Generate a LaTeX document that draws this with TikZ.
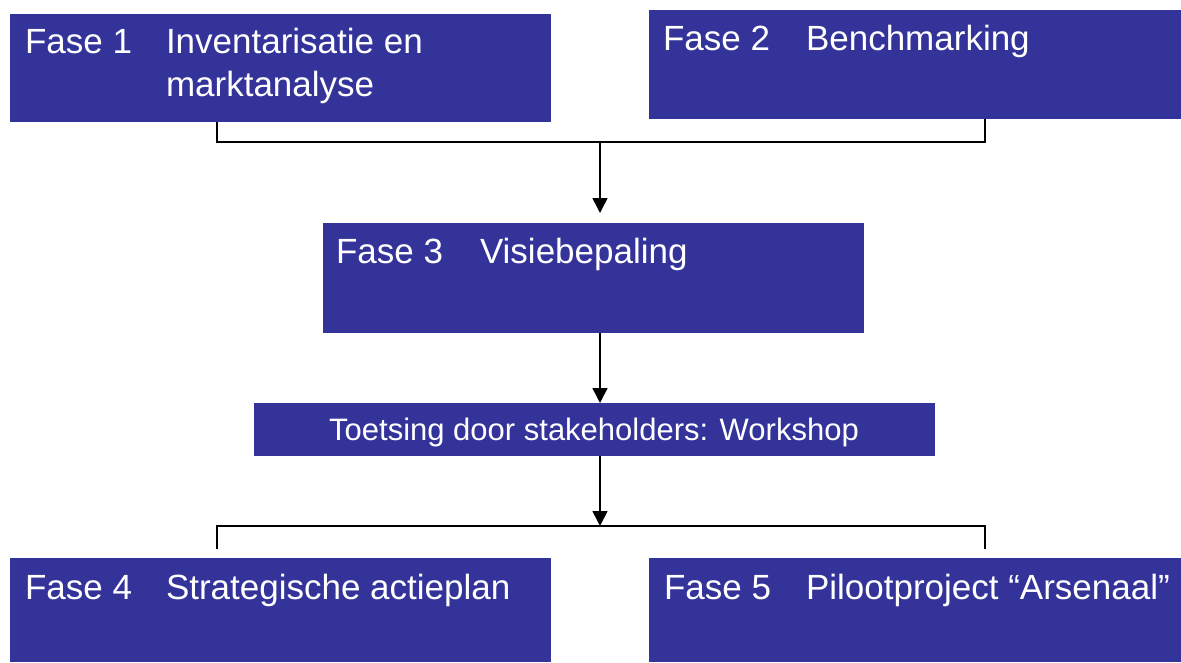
\documentclass[tikz,border=0pt]{standalone}
\usepackage{fontspec}
\setmainfont{Liberation Sans}
\usetikzlibrary{arrows.meta}
\definecolor{boxblue}{RGB}{51,51,153}
\tikzset{
  box/.style={rectangle, fill=boxblue, draw=none, inner sep=0pt, outer sep=0pt, anchor=north west},
  lbl/.style={text=white, inner sep=0pt, outer sep=0pt, anchor=base west, font=\fontsize{35}{40}\selectfont},
  small/.style={text=white, inner sep=0pt, outer sep=0pt, anchor=base, font=\fontsize{31}{36}\selectfont},
  conn/.style={line width=1.6pt, black},
  arr/.style={conn, -{Triangle[length=15pt,width=15pt]}}
}
\begin{document}
\begin{tikzpicture}[x=1pt,y=-1pt]
\useasboundingbox (0,0) rectangle (1181,662);
% boxes
\node[box, minimum width=541pt, minimum height=108pt] (f1) at (10,14) {};
\node[box, minimum width=532pt, minimum height=109pt] (f2) at (649,10) {};
\node[box, minimum width=541pt, minimum height=110pt] (f3) at (323,223) {};
\node[box, minimum width=681pt, minimum height=53pt] (t) at (254,403) {};
\node[box, minimum width=541pt, minimum height=104pt] (f4) at (10,558) {};
\node[box, minimum width=532pt, minimum height=104pt] (f5) at (649,558) {};
% labels
\node[lbl] (f1a) at (25,53) {Fase 1};
\node[lbl] (f1b) at (166,53) {Inventarisatie en};
\node[lbl] (f1c) at (166,96) {marktanalyse};
\node[lbl] (f2a) at (663,50) {Fase 2};
\node[lbl] (f2b) at (806,50) {Benchmarking};
\node[lbl] (f3a) at (336,263) {Fase 3};
\node[lbl] (f3b) at (480,263) {Visiebepaling};
\node[small] (tl) at (594,440) {Toetsing door stakeholders: Workshop};
\node[lbl] (f4a) at (25,599) {Fase 4};
\node[lbl] (f4b) at (166,599) {Strategische actieplan};
\node[lbl] (f5a) at (664,599) {Fase 5};
\node[lbl] (f5b) at (806,599) {Pilootproject “Arsenaal”};
% connector points
\coordinate (c1) at (217,142);
\coordinate (c2) at (985,142);
\coordinate (j1) at (600,142);
\coordinate (c3) at (217,526);
\coordinate (c4) at (985,526);
\coordinate (j2) at (600,526);
\coordinate (c5) at (217,549);
\coordinate (c6) at (985,549);
% connectors
\draw[conn] (f1.south -| c1) -- (c1) -- (c2) -- (f2.south -| c2);
\draw[arr, shorten >=10pt] (j1) -- (j1 |- f3.north);
\draw[arr] (f3.south -| j1) -- (t.north -| j1);
\draw[arr] (t.south -| j2) -- (j2);
\draw[conn] (c5) -- (c3) -- (c4) -- (c6);
\end{tikzpicture}
\end{document}
